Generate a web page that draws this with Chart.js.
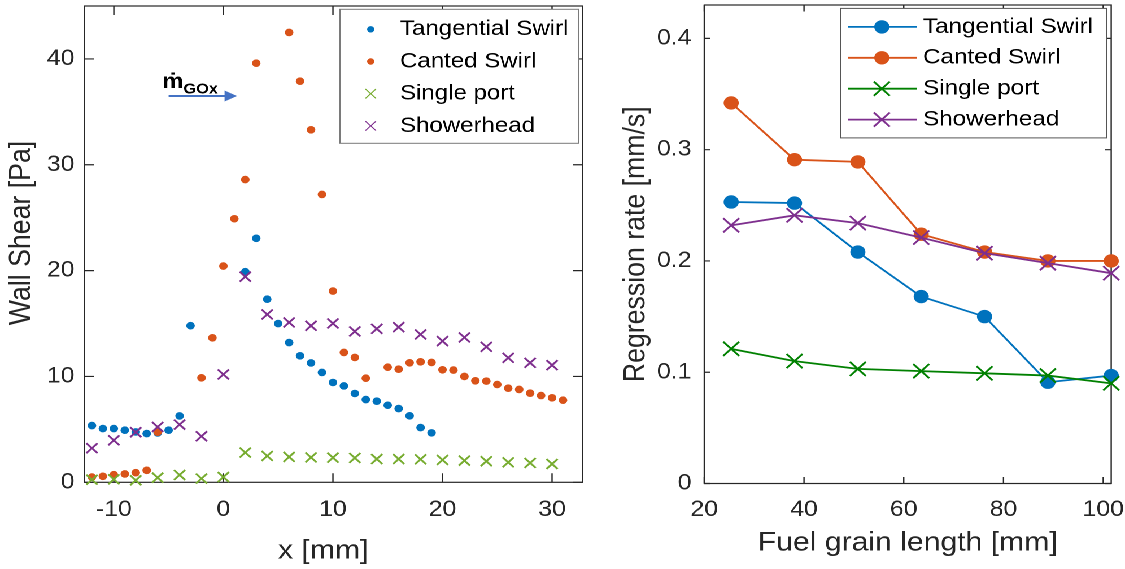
<!DOCTYPE html>
<html><head><meta charset="utf-8">
<script src="https://cdn.jsdelivr.net/npm/chart.js@4.4.1/dist/chart.umd.min.js"></script>
<style>
html,body{margin:0;padding:0;background:#fff;overflow:hidden;}
#wrap{position:absolute;left:0;top:0;width:996px;height:569px;transform:scaleX(1.12952);transform-origin:0 0;}
#c1{position:absolute;left:0;top:0;}
#c2{position:absolute;left:530px;top:0;}
</style></head><body>
<div id="wrap">
<canvas id="c1" width="530" height="569" style="width:530px;height:569px"></canvas>
<canvas id="c2" width="466" height="569" style="width:466px;height:569px"></canvas>
</div>
<script>
// ---------- data: left panel (wall shear vs x) ----------
const tangentialX = [-12,-11,-10,-9,-8,-7,-6,-5,-4,-3,2,3,4,5,6,7,8,9,10,11,12,13,14,15,16,17,18,19];
const tangentialShear = [5.36,5.08,5.08,4.92,4.76,4.6,4.66,4.92,6.27,14.8,19.9,23.05,17.3,15.0,13.2,11.95,11.28,10.38,9.43,9.11,8.39,7.82,7.66,7.28,6.97,6.28,5.17,4.67];
const cantedX = [-12,-11,-10,-9,-8,-7,-6,-2,-1,0,1,2,3,6,7,8,9,10,11,12,13,15,16,17,18,19,20,21,22,23,24,25,26,27,28,29,30,31];
const cantedShear = [0.5,0.57,0.72,0.79,0.91,1.13,4.73,9.87,13.65,20.43,24.9,28.6,39.6,42.5,37.9,33.3,27.2,18.07,12.27,11.8,9.84,10.88,10.69,11.29,11.38,11.32,10.63,10.6,10.0,9.59,9.56,9.24,8.89,8.77,8.42,8.2,7.98,7.76];
const evenX = [-12,-10,-8,-6,-4,-2,0,2,4,6,8,10,12,14,16,18,20,22,24,26,28,30];
const singlePortShear = [0.25,0.28,0.19,0.44,0.69,0.35,0.5,2.81,2.49,2.4,2.35,2.33,2.3,2.2,2.2,2.17,2.11,2.05,1.99,1.89,1.83,1.73];
const showerheadShear = [3.22,3.97,4.73,5.23,5.45,4.35,10.19,19.43,15.86,15.1,14.79,15.01,14.25,14.5,14.66,13.97,13.34,13.69,12.8,11.76,11.29,11.07];
const shearTicksX = [-10,0,10,20,30];
const shearTicksY = [0,10,20,30,40];

// ---------- data: right panel (regression rate vs grain length) ----------
const grainLength = [25.4,38.1,50.8,63.5,76.2,88.9,101.6];
const tangentialRate = [0.253,0.252,0.208,0.168,0.150,0.091,0.097];
const cantedRate = [0.342,0.291,0.289,0.224,0.208,0.200,0.200];
const singlePortRate = [0.121,0.110,0.103,0.101,0.099,0.097,0.090];
const showerheadRate = [0.232,0.241,0.234,0.221,0.207,0.198,0.189];
const rateTicksX = [20,40,60,80,100];
const rateTicksY = [0,0.1,0.2,0.3,0.4];
const rateTickLabelsY = ['0','0.1','0.2','0.3','0.4'];

const seriesNames = ['Tangential Swirl','Canted Swirl','Single port','Showerhead'];

// ---------- styling ----------
const FONT = "'Liberation Sans', Arial, Helvetica, 'DejaVu Sans', sans-serif";
const TEXT = '#262626';
const BLUE = '#0072BD', ORANGE = '#D95319', LGREEN = '#77AC30', PURPLE = '#7E2F8E', DGREEN = '#008000';

function pts(xs, ys){ return xs.map((x,i)=>({x:x, y:ys[i]})); }
function setTicks(arr){ return s => { s.ticks = arr.map(v=>({value:v})); }; }
function fitH(h){ return s => { s.height = h; s.paddingLeft = 0; s.paddingRight = 0; s.paddingTop = 0; s.paddingBottom = 0; }; }
function fitW(w){ return s => { s.width = w; s.paddingLeft = 0; s.paddingRight = 0; s.paddingTop = 0; s.paddingBottom = 0; }; }

function marker(ctx, style, x, y, r, color, lw){
  ctx.save();
  if (style === 'circle'){
    ctx.fillStyle = color; ctx.beginPath(); ctx.arc(x, y, r, 0, Math.PI*2); ctx.fill();
  } else {
    const d = r*Math.SQRT1_2;
    ctx.strokeStyle = color; ctx.lineWidth = lw; ctx.beginPath();
    ctx.moveTo(x-d,y-d); ctx.lineTo(x+d,y+d); ctx.moveTo(x+d,y-d); ctx.lineTo(x-d,y+d); ctx.stroke();
  }
  ctx.restore();
}

function boxTicks(lenX, lenY){
  return { id:'boxTicks', beforeDatasetsDraw(chart){
    const {ctx, chartArea:a, scales:{x, y}} = chart;
    ctx.save();
    ctx.strokeStyle = TEXT; ctx.lineWidth = 1.2;
    ctx.strokeRect(a.left, a.top, a.right-a.left, a.bottom-a.top);
    ctx.beginPath();
    x.ticks.forEach(t=>{ const p = x.getPixelForValue(t.value);
      ctx.moveTo(p, a.bottom); ctx.lineTo(p, a.bottom-lenX);
      ctx.moveTo(p, a.top); ctx.lineTo(p, a.top+lenX); });
    y.ticks.forEach(t=>{ const p = y.getPixelForValue(t.value);
      ctx.moveTo(a.left, p); ctx.lineTo(a.left+lenY, p);
      ctx.moveTo(a.right, p); ctx.lineTo(a.right-lenY, p); });
    ctx.stroke(); ctx.restore();
  }};
}

function boxLegend(c){
  return { id:'boxLegend', afterDraw(chart){
    const {ctx, chartArea:a} = chart;
    const left = a.right - c.rightGap - c.width, top = a.top + c.topGap;
    ctx.save();
    ctx.fillStyle = '#fff'; ctx.fillRect(left, top, c.width, c.height);
    ctx.strokeStyle = c.edge; ctx.lineWidth = 1; ctx.strokeRect(left, top, c.width, c.height);
    ctx.font = c.font; ctx.textBaseline = 'middle'; ctx.textAlign = 'left';
    chart.data.datasets.forEach((ds,i)=>{
      const cy = top + c.firstRow + i*c.rowGap;
      if (c.line){
        ctx.strokeStyle = ds.borderColor; ctx.lineWidth = ds.borderWidth;
        ctx.beginPath(); ctx.moveTo(left+c.lineFrom, cy); ctx.lineTo(left+c.lineTo, cy); ctx.stroke();
      }
      const circ = ds.pointStyle === 'circle';
      marker(ctx, ds.pointStyle, left+c.markerX, cy, circ ? c.dotR : c.crossR, circ ? ds.backgroundColor : ds.borderColor, c.markerLW);
      ctx.fillStyle = '#000'; ctx.fillText(ds.label, left+c.textX, cy);
    });
    ctx.restore();
  }};
}

// annotation + custom-placed axis titles for the left panel
const arrowFrom = -5, arrowTo = 1.24, arrowLevel = 36.5;
const leftTitles = { id:'leftTitles', afterDatasetsDraw(chart){
  const {ctx, scales:{x, y}} = chart;
  ctx.save();
  const x0 = x.getPixelForValue(arrowFrom), x1 = x.getPixelForValue(arrowTo), yy = y.getPixelForValue(arrowLevel);
  ctx.strokeStyle = '#4472C4'; ctx.fillStyle = '#4472C4'; ctx.lineWidth = 2;
  ctx.beginPath(); ctx.moveTo(x0, yy); ctx.lineTo(x1-9, yy); ctx.stroke();
  ctx.beginPath(); ctx.moveTo(x1, yy); ctx.lineTo(x1-11, yy-5.5); ctx.lineTo(x1-11, yy+5.5); ctx.closePath(); ctx.fill();
  ctx.fillStyle = '#000'; ctx.textBaseline = 'alphabetic'; ctx.textAlign = 'left';
  ctx.font = 'bold 21px ' + FONT;
  ctx.fillText('\u1E41', x.getPixelForValue(-5.57), y.getPixelForValue(37.26));
  ctx.font = 'bold 14.5px ' + FONT;
  ctx.fillText('GOx', x.getPixelForValue(-3.65), y.getPixelForValue(36.72));
  ctx.fillStyle = TEXT; ctx.font = '26.7px ' + FONT; ctx.textAlign = 'center'; ctx.textBaseline = 'middle';
  ctx.fillText('x [mm]', 286.2, 551);
  ctx.translate(19.2, 233); ctx.rotate(-Math.PI/2);
  ctx.fillText('Wall Shear [Pa]', 0, 0);
  ctx.restore();
}};

const noGrid = {display:false, drawTicks:false};

// ---------- left chart ----------
new Chart(document.getElementById('c1'), {
  type:'scatter',
  data:{ datasets:[
    {label:seriesNames[0], data:pts(tangentialX, tangentialShear), pointStyle:'circle', backgroundColor:BLUE, borderColor:BLUE, pointRadius:3.8, pointBorderWidth:0, order:4, clip:false},
    {label:seriesNames[1], data:pts(cantedX, cantedShear), pointStyle:'circle', backgroundColor:ORANGE, borderColor:ORANGE, pointRadius:3.8, pointBorderWidth:0, order:3, clip:false},
    {label:seriesNames[2], data:pts(evenX, singlePortShear), pointStyle:'crossRot', backgroundColor:LGREEN, borderColor:LGREEN, pointRadius:7, pointBorderWidth:1.8, order:2, clip:false},
    {label:seriesNames[3], data:pts(evenX, showerheadShear), pointStyle:'crossRot', backgroundColor:PURPLE, borderColor:PURPLE, pointRadius:7, pointBorderWidth:1.8, order:1, clip:false}
  ]},
  options:{
    responsive:false, animation:false, devicePixelRatio:2,
    layout:{autoPadding:false, padding:{left:0, right:14.1, top:6, bottom:0}},
    plugins:{legend:{display:false}, tooltip:{enabled:false}},
    scales:{
      x:{type:'linear', min:-12.7, max:32.8, grid:noGrid, border:{display:false},
         afterBuildTicks:setTicks(shearTicksX), afterFit:fitH(86.7),
         ticks:{color:TEXT, font:{family:FONT, size:22}, padding:14.5, maxRotation:0, autoSkip:false}},
      y:{type:'linear', min:0, max:45, grid:noGrid, border:{display:false},
         afterBuildTicks:setTicks(shearTicksY), afterFit:fitW(74.6),
         ticks:{color:TEXT, font:{family:FONT, size:22}, padding:8.6, autoSkip:false}}
    }
  },
  plugins:[boxTicks(9, 8.6), leftTitles, boxLegend({rightGap:3.6, topGap:3.3, width:211.3, height:134, firstRow:20, rowGap:32.2, markerX:27.2, textX:53.1, dotR:3.2, crossR:6.6, markerLW:1, line:false, edge:'#7a7a7a', font:'21.3px '+FONT})]
});

// ---------- right chart ----------
new Chart(document.getElementById('c2'), {
  type:'line',
  data:{ datasets:[
    {label:seriesNames[0], data:pts(grainLength, tangentialRate), pointStyle:'circle', borderColor:BLUE, backgroundColor:BLUE, borderWidth:1.8, pointRadius:6.7, pointBorderWidth:0, tension:0, order:4, clip:false},
    {label:seriesNames[1], data:pts(grainLength, cantedRate), pointStyle:'circle', borderColor:ORANGE, backgroundColor:ORANGE, borderWidth:1.8, pointRadius:6.7, pointBorderWidth:0, tension:0, order:3, clip:false},
    {label:seriesNames[2], data:pts(grainLength, singlePortRate), pointStyle:'crossRot', borderColor:DGREEN, backgroundColor:DGREEN, borderWidth:1.8, pointRadius:10, pointBorderWidth:1.8, tension:0, order:2, clip:false},
    {label:seriesNames[3], data:pts(grainLength, showerheadRate), pointStyle:'crossRot', borderColor:PURPLE, backgroundColor:PURPLE, borderWidth:1.8, pointRadius:10, pointBorderWidth:1.8, tension:0, order:1, clip:false}
  ]},
  options:{
    responsive:false, animation:false, devicePixelRatio:2,
    layout:{autoPadding:false, padding:{left:0, right:12.2, top:5, bottom:0}},
    plugins:{legend:{display:false}, tooltip:{enabled:false}},
    scales:{
      x:{type:'linear', min:20, max:101.6, grid:noGrid, border:{display:false},
         afterBuildTicks:setTicks(rateTicksX), afterFit:fitH(85.5),
         ticks:{color:TEXT, font:{family:FONT, size:22}, padding:13.3, maxRotation:0, autoSkip:false},
         title:{display:true, text:'Fuel grain length [mm]', color:TEXT, font:{family:FONT, size:26.7}, padding:{top:0, bottom:10}}},
      y:{type:'linear', min:0, max:0.43, grid:noGrid, border:{display:false},
         afterBuildTicks:setTicks(rateTicksY), afterFit:fitW(93.5),
         ticks:{color:TEXT, font:{family:FONT, size:22}, padding:11.3, autoSkip:false,
                callback:(v,i)=>rateTickLabelsY[i]},
         title:{display:true, text:'Regression rate [mm/s]', color:TEXT, font:{family:FONT, size:26.7}, padding:{top:17, bottom:0}}}
    }
  },
  plugins:[boxTicks(6.5, 5.5), boxLegend({rightGap:4.2, topGap:3.4, width:235.2, height:129.5, firstRow:18.5, rowGap:30.9, lineFrom:6.4, lineTo:67.5, markerX:36.3, textX:72.7, dotR:6.7, crossR:10, markerLW:1.8, line:true, edge:'#555555', font:'21.5px '+FONT})]
});
</script>
</body></html>
